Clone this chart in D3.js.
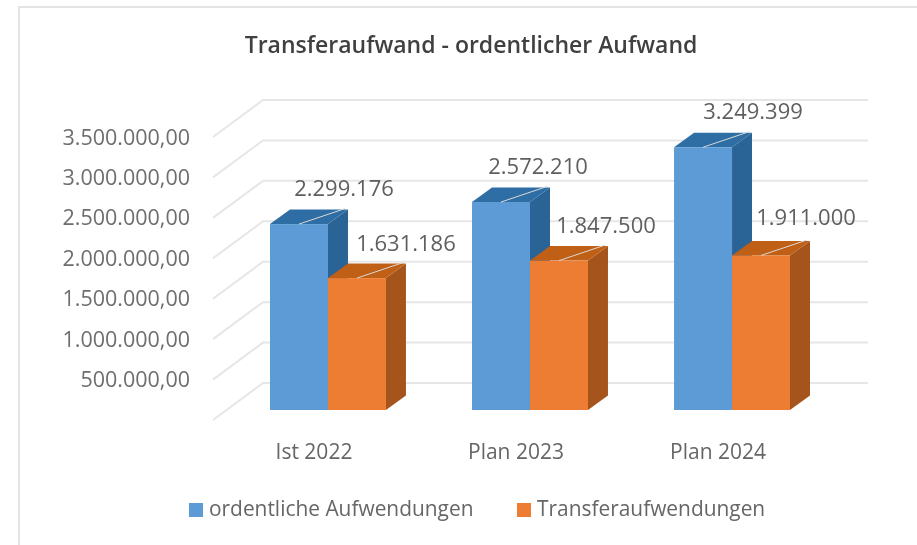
<!DOCTYPE html>
<html>
<head>
<meta charset="utf-8">
<script src="https://cdn.jsdelivr.net/npm/d3@7"></script>
<style>
  html, body { margin: 0; padding: 0; background: #fff; }
  svg { display: block; }
  text { font-family: "Open Sans", sans-serif; }
</style>
</head>
<body>
<div id="chart"></div>
<script>
const categories = ["Ist 2022", "Plan 2023", "Plan 2024"];
const seriesNames = ["ordentliche Aufwendungen", "Transferaufwendungen"];
const ordentlich = [2299176, 2572210, 3249399];
const transfer = [1631186, 1847500, 1911000];
const dataLabels = [
  ["2.299.176", "2.572.210", "3.249.399"],
  ["1.631.186", "1.847.500", "1.911.000"]
];
const tickValues = [500000, 1000000, 1500000, 2000000, 2500000, 3000000, 3500000];
const tickLabels = ["500.000,00", "1.000.000,00", "1.500.000,00", "2.000.000,00", "2.500.000,00", "3.000.000,00", "3.500.000,00"];

const width = 917, height = 545;
const colors = [
  { front: "#5b9bd5", top: "#2f6ea5", side: "#2c6396" },
  { front: "#ed7d31", top: "#c05f14", side: "#a5551c" }
];

const svg = d3.select("#chart").append("svg")
  .attr("width", width)
  .attr("height", height)
  .attr("viewBox", [0, 0, width, height]);

// the reference is a soft, scaled up screenshot
svg.append("filter").attr("id", "soft")
  .append("feGaussianBlur").attr("stdDeviation", 0.6);
const root = svg.append("g").attr("filter", "url(#soft)");

// faint frame of the screenshot
root.append("path")
  .attr("d", "M19,545V7H917")
  .attr("fill", "none")
  .attr("stroke", "#e4e4e4")
  .attr("stroke-width", 2);

const y = d3.scaleLinear().domain([0, 3500000]).range([410, 127]);
const x0 = d3.scaleBand().domain(categories).range([270, 790]).paddingInner(0.426);
const x1 = d3.scaleBand().domain([0, 1]).range([0, x0.bandwidth()]);

// 3d offsets
const depthX = 20, depthY = -14.5;
const wallFrontX = 213, wallBackX = 263, wallEndX = 868;

const grid = root.append("g").attr("fill", "none").attr("stroke", "#e6e6e6").attr("stroke-width", 2);
[0, ...tickValues].forEach(v => {
  grid.append("path")
    .attr("d", `M${wallFrontX},${y(v) + 10}L${wallBackX},${y(v) - 27}H${wallEndX}`);
});

// y labels
root.append("g").selectAll("text")
  .data(tickValues)
  .join("text")
  .attr("x", 190)
  .attr("y", d => y(d) + 10)
  .attr("dy", "0.35em")
  .attr("text-anchor", "end")
  .attr("font-size", 21.5)
  .attr("fill", "#6e6e6e")
  .text((d, i) => tickLabels[i]);

// bars, series by series so that the orange front sits over the blue side
const series = [ordentlich, transfer];
categories.forEach((cat, c) => {
  const g = root.append("g");
  series.forEach((vals, s) => {
    const left = x0(cat) + x1(s);
    const right = left + x1.bandwidth();
    const top = y(vals[c]);
    const bottom = y(0);
    g.append("path")
      .attr("fill", colors[s].side)
      .attr("d", `M${right},${top}L${right + depthX},${top + depthY}V${bottom + depthY}L${right},${bottom}Z`);
    g.append("path")
      .attr("fill", colors[s].top)
      .attr("d", `M${left},${top}L${left + depthX},${top + depthY}H${right + depthX}L${right},${top}Z`);
    g.append("rect")
      .attr("x", left)
      .attr("y", top)
      .attr("width", x1.bandwidth())
      .attr("height", bottom - top)
      .attr("fill", colors[s].front);
    // leader line on the bar top
    g.append("line")
      .attr("x1", left + x1.bandwidth() * 0.5)
      .attr("y1", top)
      .attr("x2", right + depthX - 3)
      .attr("y2", top + depthY - 1)
      .attr("stroke", "#d9d9d9")
      .attr("stroke-width", 1);
  });
});

// data labels were dragged by hand in the original, so each has its own shift
const labelShift = [[45, 37, 50], [49, 47, 45]];
const labelRise = [[36, 36, 36], [35, 35, 38]];
series.forEach((vals, s) => {
  root.append("g").selectAll("text")
    .data(vals)
    .join("text")
    .attr("x", (d, i) => x0(categories[i]) + x1(s) + x1.bandwidth() * 0.5 + labelShift[s][i])
    .attr("y", (d, i) => y(d) - labelRise[s][i])
    .attr("dy", "0.35em")
    .attr("text-anchor", "middle")
    .attr("font-size", 22)
    .attr("fill", "#5f5f5f")
    .text((d, i) => dataLabels[s][i]);
});

// category labels
root.append("g").selectAll("text")
  .data(categories)
  .join("text")
  .attr("x", d => x0(d) + x0.bandwidth() * 0.5 - 14)
  .attr("y", 452)
  .attr("dy", "0.35em")
  .attr("text-anchor", "middle")
  .attr("font-size", 21)
  .attr("fill", "#666")
  .text(d => d);

// title
root.append("text")
  .attr("x", 471)
  .attr("y", 45)
  .attr("dy", "0.35em")
  .attr("text-anchor", "middle")
  .attr("font-size", 23)
  .attr("font-weight", 600)
  .attr("fill", "#404040")
  .text("Transferaufwand - ordentlicher Aufwand");

// legend
const legendX = [189, 517];
seriesNames.forEach((name, i) => {
  root.append("rect")
    .attr("x", legendX[i])
    .attr("y", 503)
    .attr("width", 14)
    .attr("height", 14)
    .attr("fill", colors[i].front);
  root.append("text")
    .attr("x", legendX[i] + 20)
    .attr("y", 509)
    .attr("dy", "0.35em")
    .attr("font-size", 20.9)
    .attr("fill", "#666")
    .text(name);
});
</script>
</body>
</html>
